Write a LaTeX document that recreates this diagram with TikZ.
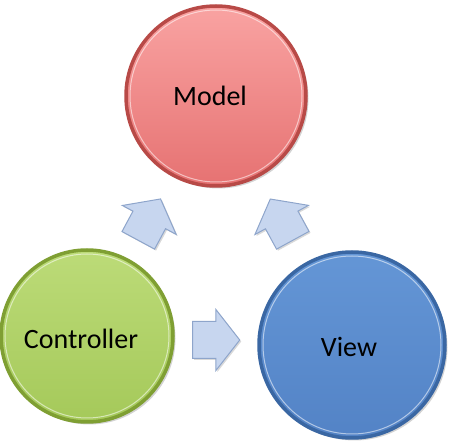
\documentclass[tikz,border=0pt]{standalone}
\usepackage{fontspec}
\setmainfont{Carlito}
\usetikzlibrary{shapes.arrows,shadows}
\definecolor{mtop}{HTML}{F9A3A2}
\definecolor{mbot}{HTML}{E67272}
\definecolor{mrim}{HTML}{B84A47}
\definecolor{ctop}{HTML}{BCDB78}
\definecolor{cbot}{HTML}{A5C95A}
\definecolor{crim}{HTML}{7F9F33}
\definecolor{vtop}{HTML}{6496D6}
\definecolor{vbot}{HTML}{5383C6}
\definecolor{vrim}{HTML}{3A67A3}
\definecolor{afill}{HTML}{C7D6EF}
\definecolor{arim}{HTML}{8EA5CB}
\tikzset{
  ball/.style={circle, inner sep=0pt,
    line width=3.5pt, drop shadow={opacity=0.35, shadow xshift=2.5pt, shadow yshift=-2.5pt}},
  ring/.style={draw=white, opacity=0.55, line width=1pt},
  label/.style={font=\fontsize{28}{32}\selectfont, text=black},
  blockarrow/.style={single arrow, draw=arim, line width=1pt, fill=afill,
    minimum height=47pt, inner xsep=0pt, inner ysep=18pt, single arrow head extend=12pt,
    single arrow tip angle=104,
    drop shadow={opacity=0.3, shadow xshift=1.5pt, shadow yshift=-1.5pt}}
}
\begin{document}
\begin{tikzpicture}[x=1pt,y=-1pt]
\useasboundingbox (0,0) rectangle (453,446);
% circles
\node[ball, minimum size=180pt, draw=mrim, top color=mtop, bottom color=mbot] (model) at (216,96) {};
\node[ball, minimum size=172pt, draw=crim, top color=ctop, bottom color=cbot] (ctrl) at (87,336) {};
\node[ball, minimum size=186pt, draw=vrim, top color=vtop, bottom color=vbot] (view) at (352,345) {};
\draw[ring] (model.center) circle (86);
\draw[ring] (ctrl.center) circle (82);
\draw[ring] (view.center) circle (89);
\node[label] (tm) at (210,96) {Model};
\node[label] (tc) at (81,339) {Controller};
\node[label] (tv) at (349,347) {View};
% arrows
\node[blockarrow, rotate=61.7] (a1) at (146,226) {};
\node[blockarrow, rotate=118.6] (a2) at (285,226) {};
\node[blockarrow] (a3) at (209,340) {};
\end{tikzpicture}
\end{document}
